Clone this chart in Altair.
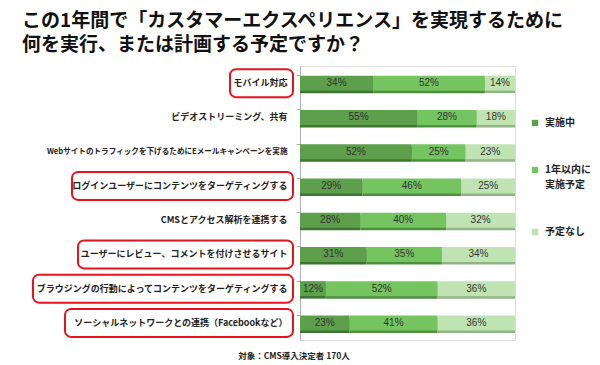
import altair as alt
import pandas as pd

categories = [
    "モバイル対応",
    "ビデオストリーミング、共有",
    "Webサイトのトラフィックを下げるためにEメールキャンペーンを実施",
    "ログインユーザーにコンテンツをターゲティングする",
    "CMSとアクセス解析を連携する",
    "ユーザーにレビュー、コメントを付けさせるサイト",
    "ブラウジングの行動によってコンテンツをターゲティングする",
    "ソーシャルネットワークとの連携（Facebookなど）",
]
series = ["実施中", "1年以内に実施予定", "予定なし"]
doing = [34, 55, 52, 29, 28, 31, 12, 23]
planned = [52, 28, 25, 46, 40, 35, 52, 41]
no_plan = [14, 18, 23, 25, 32, 34, 36, 36]
highlighted = [True, False, False, True, False, True, True, True]

title_lines = ["この1年間で「カスタマーエクスペリエンス」を実現するために", "何を実行、または計画する予定ですか？"]
footer = "対象：CMS導入決定者 170人"

# styling (pixels relative to the plot area) for the red highlight boxes
box_left = {0: -70, 3: -228, 5: -222, 6: -267, 7: -235}
box_right = -7

colors = ["#5e9f4c", "#74c460", "#bfe3b2"]
shadow_colors = ["#3f7533", "#4f8f40", "#8fb585"]
FONT = "Noto Sans CJK JP"

rows = []
for i, c in enumerate(categories):
    for k, (s, vals) in enumerate(zip(series, [doing, planned, no_plan])):
        rows.append({"category": c, "series": s, "order": k, "value": vals[i]})
df = pd.DataFrame(rows)

box_df = pd.DataFrame([
    {"category": categories[i], "left": box_left[i], "right": box_right}
    for i in range(len(categories)) if highlighted[i]
])

band = alt.Scale(paddingInner=0.56, paddingOuter=0.28)

base = alt.Chart(df).transform_stack(
    stack="value", groupby=["category"], as_=["x0", "x1"],
    offset="normalize", sort=[alt.SortField("order")]
).transform_calculate(mid="(datum.x0 + datum.x1) / 2")

xscale = alt.Scale(domain=[0, 1], nice=False)

shadow = base.mark_bar(yOffset=2.5, size=15).encode(
    x=alt.X("x0:Q", scale=xscale, axis=None),
    x2="x1:Q",
    y=alt.Y("category:N", sort=categories, title=None, scale=band),
    color=alt.Color("series:N", scale=alt.Scale(domain=series, range=shadow_colors), legend=None),
)

bars = base.mark_bar(size=15).encode(
    x=alt.X("x0:Q", scale=xscale, axis=None),
    x2="x1:Q",
    y=alt.Y("category:N", sort=categories, title=None, scale=band,
            axis=alt.Axis(labelFont=FONT,
                          labelFontSize={"condition": {"test": "length(datum.label) > 30", "value": 7.6}, "value": 9},
                          labelFontWeight="bold",
                          labelColor="#222222", labelLimit=320, labelPadding=9,
                          domainColor="#b0b0b0", tickColor="#b0b0b0", tickSize=4,
                          bandPosition=0, ticks=True, domainWidth=1)),
    color=alt.Color("series:N", scale=alt.Scale(domain=series, range=colors),
                    legend=alt.Legend(title=None, orient="none", legendX=230, legendY=52,
                                      symbolType="square", symbolSize=40, symbolStrokeWidth=0,
                                      labelFont=FONT, labelFontSize=10, labelFontWeight="bold",
                                      labelColor="#222222", rowPadding=37, labelOffset=5,
                                      labelExpr="datum.label == '1年以内に実施予定' ? ['1年以内に', '実施予定'] : datum.label")),
    order=alt.Order("order:Q"),
)

labels = base.mark_text(font="Liberation Sans", fontSize=10, color="#333333").encode(
    x=alt.X("mid:Q", scale=xscale),
    y=alt.Y("category:N", sort=categories),
    text=alt.Text("label:N"),
).transform_calculate(label="datum.value + '%'")

boxes = alt.Chart(box_df).mark_bar(height=28, cornerRadius=6, fillOpacity=0,
                                    stroke="#e8141c", strokeWidth=2).encode(
    x=alt.X("left:Q", scale=None),
    x2="right:Q",
    y=alt.Y("category:N", sort=categories),
)

foot = alt.Chart(pd.DataFrame({"t": [footer]})).mark_text(
    font=FONT, fontSize=8.5, fontWeight="bold", color="#222222"
).encode(text="t:N", x=alt.value(-6), y=alt.value(290))

chart = alt.layer(shadow, bars, labels, boxes, foot).resolve_scale(color="independent").properties(
    width=215, height=274,
    autosize=alt.AutoSizeParams(type="none"),
    padding={"left": 292, "top": 58, "right": 77, "bottom": 25},
    title=alt.TitleParams(text=title_lines, anchor="start", frame="group", dx=-278,
                          font=FONT, fontSize=19, fontWeight="bold", color="#111111",
                          lineHeight=24.5, offset=11),
).configure_view(stroke=None).configure(style={"guide-label": {"lineHeight": 15}})

chart.save("out.html", embed_options={"renderer": "svg", "actions": False})
